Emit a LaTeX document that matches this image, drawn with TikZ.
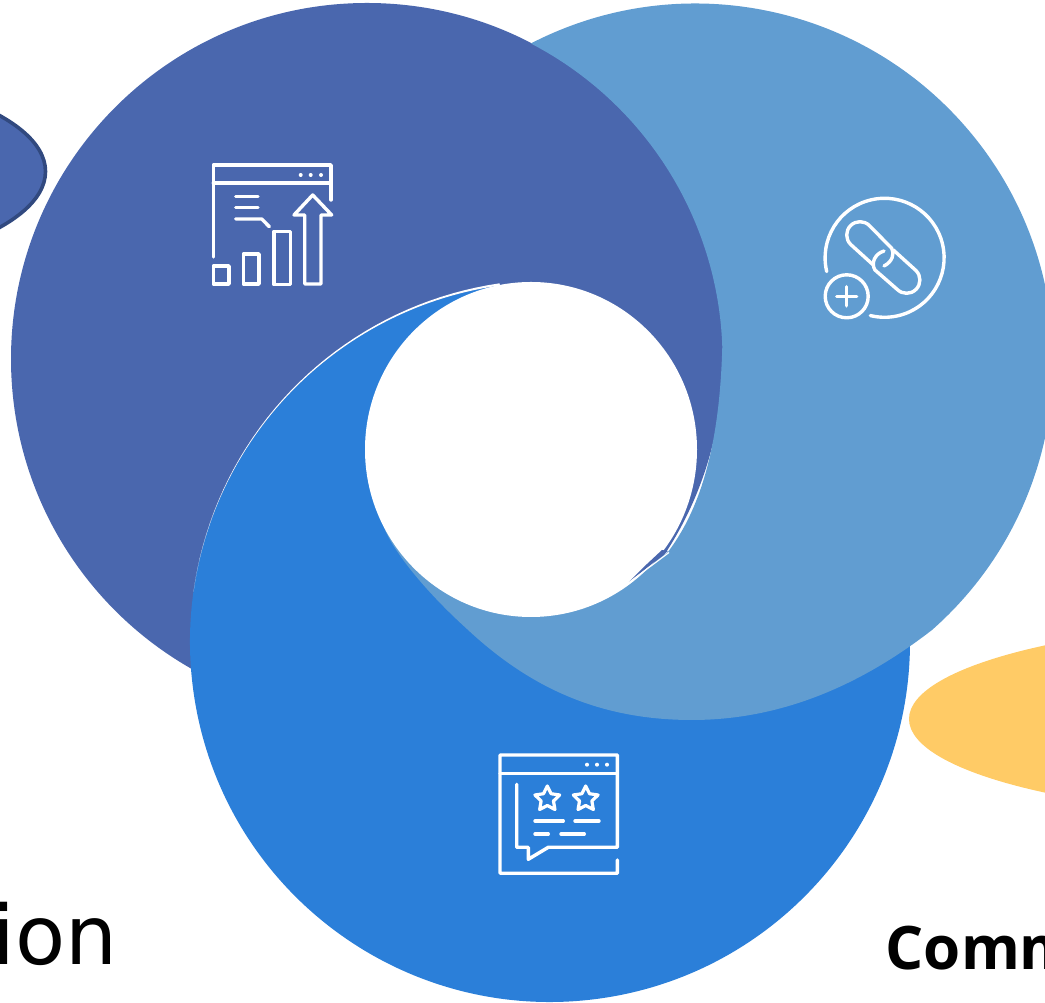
\documentclass[tikz,border=0pt]{standalone}
\usepackage{fontspec}
\usetikzlibrary{shapes.geometric}
\newfontfamily\ionfont{DejaVu Sans}
\newfontfamily\commfont{Open Sans}
\definecolor{darkcircle}{HTML}{4A67AE}
\definecolor{lightcircle}{HTML}{619DD1}
\definecolor{bluecircle}{HTML}{2B7FD9}
\definecolor{sideyellow}{HTML}{FFCB66}
\definecolor{sideedge}{HTML}{31497F}
\tikzstyle{icon} = [draw = white, line width = 3.4pt, line cap = round, line join = round]
\tikzstyle{icondot} = [fill = white]
\tikzstyle{iconstar} = [star, star points = 5, star point ratio = 2, minimum size = 26pt, inner sep = 0pt, draw = white, line width = 3.2pt, line join = round]
\tikzstyle{bigword} = [anchor = base west, inner sep = 0pt, font = \ionfont\fontsize{82}{82}\selectfont]
\tikzstyle{boldword} = [anchor = base west, inner sep = 0pt, font = \commfont\bfseries\fontsize{60}{60}\selectfont]

\begin{document}
\begin{tikzpicture}[x = 1pt, y = 1pt]

	\useasboundingbox (0,0) rectangle (1045,1003);
	\clip (0,0) rectangle (1045,1003);

	\draw[fill = darkcircle, draw = sideedge, line width = 3.6pt] (-253,831.5) ellipse [x radius = 298.5, y radius = 105];
	\fill[sideyellow] (1309,284) ellipse [x radius = 400, y radius = 98];

	\fill[darkcircle] (367,644) circle [radius = 356];

	\fill[bluecircle] (550,361) ++(98.2:360) arc[start angle = 98.2, end angle = 360, radius = 360] -- (700,300) -- (531,400) -- (531,554) -- cycle;
	\fill[white] plot[domain = 98:172, samples = 40] ({550+(360+2.2*(172-\x)/74)*cos(\x)},{361+(360+2.2*(172-\x)/74)*sin(\x)}) arc[start angle = 172, end angle = 98, radius = 360] -- cycle;

	\fill[lightcircle] (692,283) .. controls (790,283) and (870,325) .. (932,373)
		arc[start angle = -48.6, end angle = 117.1, radius = 358]
		-- (531.15,959.33)
		arc[start angle = 62.5, end angle = 2, radius = 355.5]
		.. controls (720,570) and (705,500) .. (668,451)
		-- (627,420) -- (531,554) -- (385,473)
		.. controls (395,450) and (425,412) .. (467,374)
		.. controls (530,315) and (600,283) .. (692,283) -- cycle;

	\fill[white] (531,553.5) ellipse [x radius = 166, y radius = 167.5];
	\fill[darkcircle] (668,452) -- (628,420) -- (647,439) -- (662,453) -- cycle;
	\draw[white, line width = 1.2pt] (669,450.5) -- (627.5,419.5);

	\begin{scope}[shift = {(0,1003)}, yscale = -1]
		\draw[icon] (213.3,257) -- (213.3,165) -- (331,165) -- (331,200);
		\draw[icon] (213.3,183) -- (331,183);
		\foreach \dotx in {300.7,310.7,321}
			\fill[icondot] (\dotx,175) circle [radius = 2];
		\draw[icon] (235.7,196.7) -- (258,196.7);
		\draw[icon] (235.7,207.3) -- (258,207.3);
		\draw[icon] (235.7,219) -- (261.7,219) -- (269.3,226.7);
		\draw[icon] (213.3,266) rectangle (229,284);
		\draw[icon] (243.3,254) rectangle (259,284);
		\draw[icon] (274,231.3) rectangle (290.7,284.7);
		\draw[icon] (304.7,284) -- (304.7,215) -- (294,215) -- (312.7,195) -- (331.7,215) -- (321,215) -- (321,284) -- cycle;

		\draw[icon] (884.6,257.8) ++(166.6:59.5) arc[start angle = 166.6, end angle = 463.9, radius = 59.5];
		\draw[icon] (846.7,296.3) circle [radius = 21.5];
		\draw[icon] (836.7,296.3) -- (856.7,296.3);
		\draw[icon] (846.7,286.7) -- (846.7,305.9);
		\draw[icon] (873.3,265) -- (850.6,244.4) arc[start angle = 135, end angle = 315, radius = 13.3] -- (891.7,248.3) .. controls (895,254) and (892,262) .. (884,266);
		\draw[icon] (893.3,250) -- (916,270.6) arc[start angle = 315, end angle = 495, radius = 13.3] -- (875,270) .. controls (871,264) and (874,254) .. (884,251);

		\draw[icon] (617.3,860) -- (617.3,873.3) -- (500,873.3) -- (500,755) -- (617.3,755) -- (617.3,847.3) -- (548.3,847.3) -- (528.3,859.3) -- (528.3,847.3) -- (516.7,847.3) -- (516.7,784.3);
		\draw[icon] (500,773.3) -- (617.3,773.3);
		\foreach \dotx in {587,597,607}
			\fill[icondot] (\dotx,764.7) circle [radius = 2];
		\node[iconstar] (star left) at (547.3,799) {};
		\node[iconstar] (star right) at (585.7,799) {};
		\draw[icon] (535,821) -- (563.3,821);
		\draw[icon] (575,821) -- (599,821);
		\draw[icon] (535,834) -- (548.3,834);
		\draw[icon] (561,834) -- (584.3,834);
	\end{scope}

	\node[bigword] (word ion) at (-7.5,38) {ion};
	\node[boldword] (word comm) at (885.5,33) {Comm};

\end{tikzpicture}
\end{document}
